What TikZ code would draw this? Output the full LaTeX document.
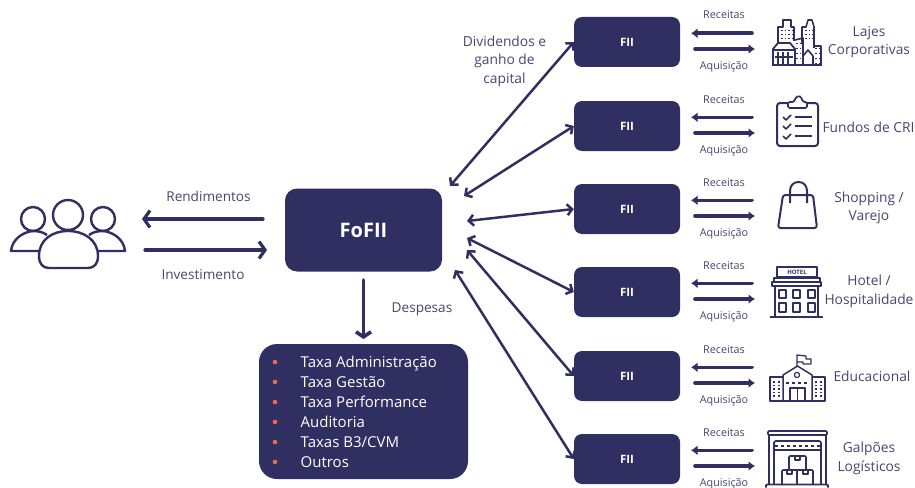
\documentclass[tikz,border=0pt]{standalone}
\usepackage{fontspec}
\setmainfont{Open Sans}
\usetikzlibrary{arrows.meta}
\definecolor{navy}{HTML}{2F3061}
\definecolor{inktext}{HTML}{45466F}
\definecolor{coral}{HTML}{F0674F}
\tikzset{
  box/.style={fill=navy,draw=none,text=white,font=\bfseries},
  lbl/.style={text=inktext,font=\fontsize{13.6}{16}\selectfont,inner sep=0pt},
  small/.style={text=inktext,font=\fontsize{10.8}{12}\selectfont,inner sep=0pt,anchor=base},
  cat/.style={text=inktext,font=\fontsize{13.8}{18.5}\selectfont,align=center,inner sep=0pt},
  item/.style={text=white,font=\fontsize{15}{16}\selectfont,anchor=base west,inner sep=0pt},
  barb/.style={navy,line width=3.2pt,line cap=round},
  hub/.style={navy,line width=2.5pt,{Straight Barb[length=5pt,width=11pt]}-{Straight Barb[length=5pt,width=11pt]}},
  flow/.style={navy,line width=3.6pt,line cap=round,-{Latex[length=6.5pt,width=10pt]}},
  icon/.style={navy,line width=1.5pt,line join=round}
}
\begin{document}
\begin{tikzpicture}[x=1pt,y=-1pt]
\useasboundingbox (0,0) rectangle (915,487);
\node[box,rounded corners=12pt,minimum width=157pt,minimum height=83pt,font=\bfseries\fontsize{20}{22}\selectfont] (fofii) at (363.5,230) {FoFII};
\node[box,rounded corners=18pt,minimum width=209pt,minimum height=135pt] (costs) at (363.5,411.5) {};
\foreach \i/\y in {1/42,2/126,3/209,4/292,5/376,6/459}
{       \node[box,rounded corners=8pt,minimum width=106pt,minimum height=50pt,font=\bfseries\fontsize{11.5}{13}\selectfont] (fii\i) at (627,\y) {FII};
        \node[small] (rec\i) at (724,\y-23) {Receitas};
        \node[small] (aqu\i) at (724,\y+27.5) {Aquisição};
        \coordinate (in\i) at (752,\y-8.7);
        \coordinate (out\i) at (755,\y+7);
        \coordinate (inend\i) at (691,\y-8.7);
        \coordinate (outstart\i) at (695,\y+7);
        \draw[flow] (in\i) -- (inend\i);
        \draw[flow] (outstart\i) -- (out\i);
}
\coordinate (hub1) at (450,186);
\coordinate (hub2) at (464,196);
\coordinate (hub3) at (467,221);
\coordinate (hub4) at (467,238);
\coordinate (hub5) at (467,250);
\coordinate (hub6) at (455,270);
\foreach \i in {1,...,6}
{       \draw[hub] (hub\i) -- (fii\i.west);
}
\coordinate (peopleR) at (142,219);
\coordinate (peopleI) at (145,250);
\coordinate (fofiiR) at (263,219);
\coordinate (fofiiI) at (267,250);
\draw[barb,-{Straight Barb[length=6pt,width=17pt]}] (fofiiR) -- (peopleR);
\draw[barb,-{Straight Barb[length=6pt,width=17pt]}] (peopleI) -- (fofiiI);
\draw[barb,line width=3.6pt,-{Straight Barb[length=5pt,width=15pt]}] (fofii.south |- 0,280) -- (costs.north |- 0,339);
\node[lbl] (rend) at (208.5,196) {Rendimentos};
\node[lbl] (inv) at (203,275) {Investimento};
\node[lbl] (desp) at (422,309) {Despesas};
\node[cat,font=\fontsize{13.8}{18.5}\selectfont] (divid) at (504.5,61) {Dividendos e\\ganho de\\capital};
\foreach \t [count=\i] in {Taxa Administração,Taxa Gestão,Taxa Performance,Auditoria,Taxas B3/CVM,Outros}
{       \node[item] (item\i) at (300.5,347+20*\i) {\t};
        \fill[coral] (275,342+20*\i) circle (2.3);
}
\node[cat] (cat1) at (869,42) {Lajes\\Corporativas};
\node[cat] (cat2) at (868.5,127) {Fundos de CRI};
\node[cat] (cat3) at (869,208) {Shopping /\\Varejo};
\node[cat] (cat4) at (869,291.5) {Hotel /\\Hospitalidade};
\node[cat] (cat5) at (872,376.5) {Educacional};
\node[cat] (cat6) at (869,458.5) {Galpões\\Logísticos};
% pessoas
\draw[icon,line width=2.4pt] (68,215) circle (15);
\draw[icon,line width=2.4pt] (33,219) circle (12);
\draw[icon,line width=2.4pt] (103,219) circle (12);
\draw[icon,line width=2.4pt] (39,256) .. controls (39,240) and (52,231) .. (68,231) .. controls (84,231) and (98,240) .. (98,256) .. controls (98,264) and (94,268) .. (88,268) -- (49,268) .. controls (43,268) and (39,264) .. (39,256) -- cycle;
\draw[icon,line width=2.4pt] (40,251) -- (11,251) .. controls (12,240) and (22,232) .. (33,231) .. controls (38,231) and (43,232) .. (47,235);
\draw[icon,line width=2.4pt] (97,251) -- (125,251) .. controls (124,240) and (114,232) .. (103,231) .. controls (98,231) and (93,232) .. (89,235);
% predios
\draw[icon,line width=1.6pt] (778,43) -- (778,27) -- (783,27) -- (783,20) -- (791,20) -- (791,27) -- (794,27) -- (794,41);
\draw[icon,line width=1.8pt] (773,64) -- (773,49) -- (778,43) -- (790,43) -- (795,49) -- (795,64);
\draw[icon,line width=2pt] (772,65) -- (822,65);
\draw[icon,line width=1.6pt] (795,40) -- (803,38) -- (803,64);
\draw[icon,line width=1.6pt] (802,44) -- (802,27) -- (806,27) -- (808,20) -- (812,20) -- (814,27) -- (814,48);
\draw[icon,line width=1.6pt] (815,46) -- (821,46) -- (821,64);
\draw[icon,line width=1.6pt] (803,56) -- (808,50) -- (813,56) -- (813,64);
\foreach \xa in {778,783,788}
{       \draw[icon,line width=1.2pt] (\xa,52) -- (\xa,64);
}
\draw[icon,line width=1.6pt] (773,50) -- (795,50);
\draw[icon,line width=1.2pt] (775,57) -- (793,57);
\foreach \ya in {31,35,39}
{       \draw[icon,dotted,line width=1pt] (781,\ya) -- (792,\ya);
        \draw[icon,dotted,line width=1pt] (805,\ya) -- (813,\ya);
}
\foreach \ya in {44,49,54,59}
{       \draw[icon,dotted,line width=1pt] (796,\ya) -- (802,\ya);
        \draw[icon,dotted,line width=1pt] (815,\ya+5) -- (821,\ya+5);
}
% prancheta
\draw[icon,line width=2pt,rounded corners=3pt] (788,103) -- (777,103) -- (777,146) -- (818,146) -- (818,103) -- (807,103);
\draw[icon,line width=1.7pt,rounded corners=1.5pt] (788,108) -- (788,102) -- (794,102) -- (796,97) -- (799,96) -- (801,97) -- (803,102) -- (807,102) -- (807,108) -- cycle;
\foreach \ya in {117,126,136}
{       \draw[icon,line width=1.7pt] (783,\ya) -- (786,\ya+3) -- (791,\ya-2);
        \draw[icon,line width=1.6pt] (795,\ya) -- (812,\ya);
}
% sacola
\draw[icon,line width=2pt,rounded corners=2.5pt] (783,195) -- (813,195) -- (817,228) -- (778,228) -- cycle;
\draw[icon,line width=2pt] (790,203) -- (790,191) .. controls (790,185) and (794,182) .. (798.5,182) .. controls (803,182) and (807,185) .. (807,191) -- (807,203);
% hotel
\draw[icon,line width=1.4pt] (777,277) rectangle (817,267);
\node[font=\bfseries\fontsize{6}{6}\selectfont,text=navy,inner sep=0pt] (hotelsign) at (797,272.3) {HOTEL};
\draw[icon,line width=1.4pt] (774,282) rectangle (820,278);
\draw[icon,line width=1.8pt] (772,286) rectangle (821,282);
\draw[icon,line width=1.7pt] (775,317) -- (775,286);
\draw[icon,line width=1.7pt] (818,317) -- (818,286);
\draw[icon,line width=1.6pt] (770,317) -- (823,317);
\foreach \xa in {779,793,808}
{       \draw[icon,line width=1.4pt] (\xa,290) rectangle (\xa+7,298);
        \draw[icon,line width=1.4pt] (\xa,303) rectangle (\xa+7,312);
}
% escola
\draw[icon,line width=1.5pt] (783,377) -- (770,377) -- (770,401) -- (825,401) -- (825,377) -- (812,377);
\draw[icon,line width=1.5pt] (783,401) -- (783,375) -- (797.5,366) -- (812,375) -- (812,401);
\draw[icon,line width=1.3pt] (797,366) -- (797,355) -- (806,356) -- (806,359) -- (811,359) -- (811,364) -- (803,364) -- (803,362) -- (797,362);
\draw[icon,line width=1.3pt] (790,401) -- (790,388) -- (805,388) -- (805,401);
\draw[icon,line width=1.1pt] (797.5,388) -- (797.5,401);
\draw[icon,line width=1.2pt] (797,375) circle (2.6);
\draw[icon,dashed,line width=1.1pt] (786,383) -- (810,383);
\foreach \xa in {774,779,816,821}
{       \draw[icon,dotted,line width=1.6pt] (\xa,381) -- (\xa,398);
}
% galpao
\draw[icon,line width=1.7pt] (769,435) -- (769,484);
\draw[icon,line width=1.7pt] (826,435) -- (826,484);
\draw[icon,line width=1.6pt,rounded corners=1pt] (768,431) rectangle (827,435);
\draw[icon,line width=1.6pt,rounded corners=1.5pt] (774,484) -- (774,441) -- (821,441) -- (821,484);
\draw[icon,dashed,line width=1.4pt] (775,446) -- (821,446);
\draw[icon,line width=1.4pt] (774,450) -- (821,450);
\draw[icon,line width=1.6pt,rounded corners=1pt] (789,470) -- (789,456) -- (806,456) -- (806,470);
\draw[icon,line width=1.6pt,rounded corners=1pt] (782,485) -- (782,470) -- (813,470) -- (813,485);
\draw[icon,line width=1.4pt] (797,470) -- (797,485);
\draw[icon,line width=1.2pt] (795,456) -- (795,460) -- (800,460) -- (800,456);
\draw[icon,line width=1.2pt] (787,470) -- (787,474) -- (792,474) -- (792,470);
\draw[icon,line width=1.2pt] (803,470) -- (803,474) -- (808,474) -- (808,470);
\draw[icon,line width=1.8pt,rounded corners=1pt] (766,487.5) -- (766,484.5) -- (828,484.5) -- (828,487.5);
\end{tikzpicture}
\end{document}
